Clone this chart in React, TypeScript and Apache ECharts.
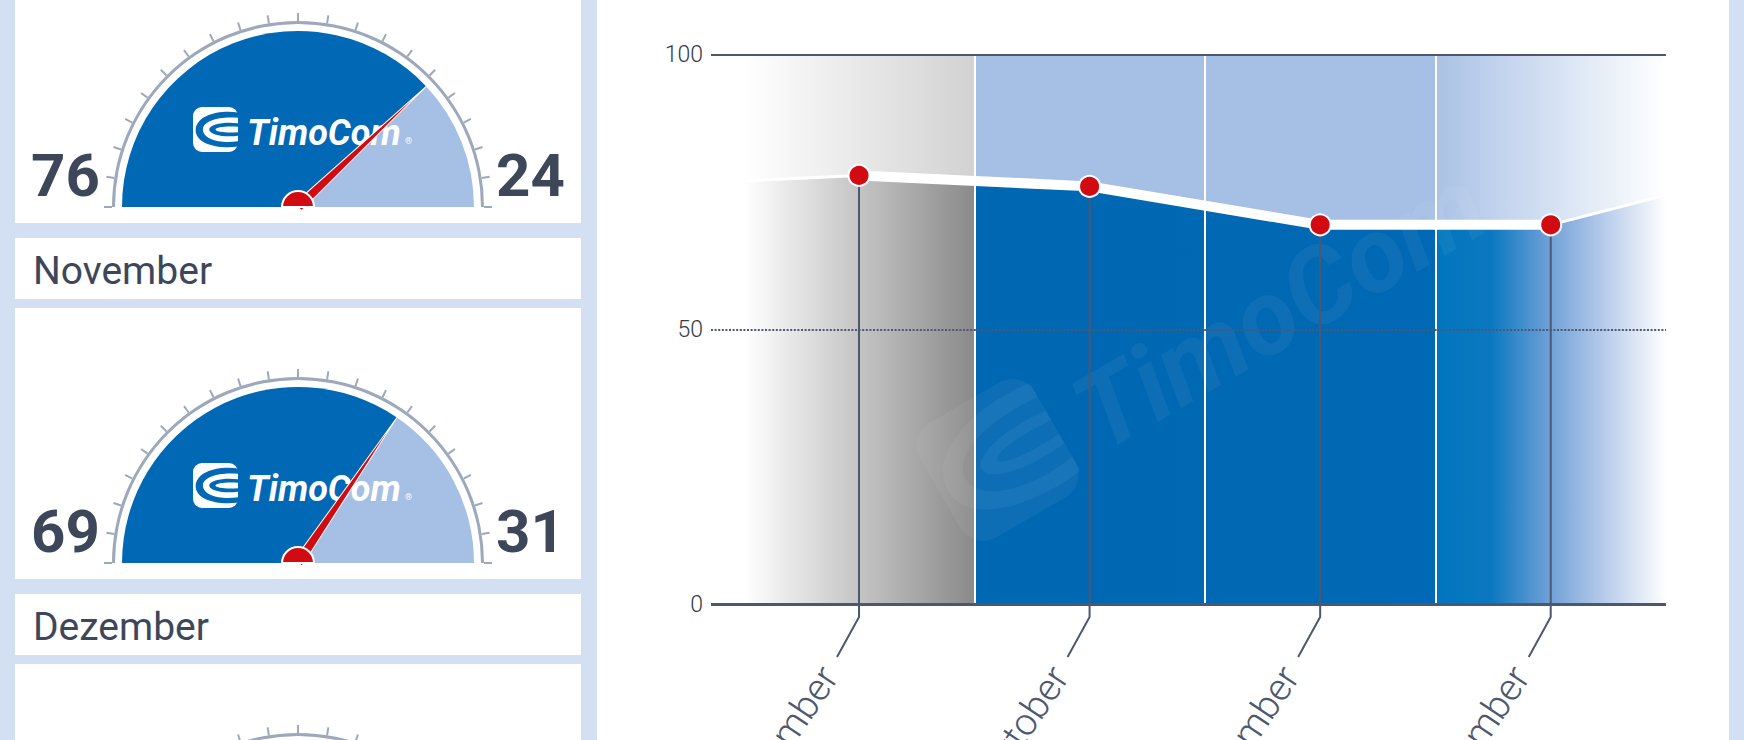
import React, { useEffect, useRef } from 'react';
import * as echarts from 'echarts';

// ---------------- data ----------------
const months = ['September', 'Oktober', 'November', 'Dezember'];
const shareValues = [78, 76, 69, 69];
const leadInPoint = [-0.5, 77];
const leadOutPoint = [3.5, 74.4];
const bandDividers = [0.5, 1.5, 2.5];
const gridLineValues = [0, 50, 100];
const gaugeMonths = ['Oktober', 'November', 'Dezember'];
const gaugeValues = [76, 69, 69];

// ---------------- layout / style ----------------
const PAGE_H = 740;
const GAUGE_CX = 298;
const gaugeCenterY = [207, 563, 919];
const DARK = '#3e475a';
const AXIS = '#4d5870';
const BLUE = '#0068b4';
const LIGHT_BLUE = '#a6bfe5';
const RED = '#d20a11';
const RING = '#9da8bb';

const SWOOSH_D =
  'M100,12 C58,6 8,18 6,50 C4,82 56,94 100,88 L100,76 C62,82 22,72 22,50 C22,30 60,20 100,24 Z ' +
  'M100,36 C72,32 36,38 36,50 C36,62 70,68 100,64 L100,56 C78,58 50,56 50,50 C50,44 78,42 100,44 Z';

let registered = false;
function ensureShapes() {
  if (registered) return;
  echarts.graphic.registerShape('tcSwoosh', echarts.graphic.extendPath(SWOOSH_D, {}) as any);
  registered = true;
}

function logo(x: number, y: number, scale: number, rotation: number, alpha: number, swooshFill: string, z: number) {
  const fill = `rgba(255,255,255,${alpha})`;
  return {
    type: 'group',
    x,
    y,
    scaleX: scale,
    scaleY: scale,
    rotation,
    z,
    silent: true,
    children: [
      { type: 'rect', z, shape: { x: -54, y: -36, width: 45, height: 45, r: 9 }, style: { fill } },
      { type: 'tcSwoosh', z, x: -54, y: -36, scaleX: 0.45, scaleY: 0.45, style: { fill: swooshFill } },
      {
        type: 'text', z, x: 0, y: 8,
        style: { text: 'TimoCom', font: 'italic bold 36px Roboto', fill, align: 'left', verticalAlign: 'bottom' },
      },
      {
        type: 'text', z, x: 158, y: 2,
        style: { text: '®', font: '9px Roboto', fill, align: 'left', verticalAlign: 'bottom' },
      },
    ],
  };
}

function buildOption() {
  const graphics: any[] = [];
  // chart panel
  graphics.push({ type: 'rect', z: 0, silent: true, shape: { x: 597, y: 0, width: 1132, height: 740 }, style: { fill: '#fff' } });

  gaugeValues.forEach((v, i) => {
    const cy = gaugeCenterY[i];
    // header card (the first one lies above the visible page)
    if (cy - 325 + 61 > 0) {
      graphics.push({ type: 'rect', z: 0, silent: true, shape: { x: 15, y: cy - 325, width: 566, height: 61 }, style: { fill: '#fff' } });
      graphics.push({
        type: 'text', z: 1, x: 33, y: cy - 292,
        style: { text: gaugeMonths[i], font: '39px Roboto', fill: DARK, align: 'left', verticalAlign: 'middle' },
      });
    }
    // gauge card
    graphics.push({ type: 'rect', z: 0, silent: true, shape: { x: 15, y: cy - 255, width: 566, height: 271 }, style: { fill: '#fff' } });
    // numbers and logo (only for gauges whose face lies on the page)
    if (cy - 100 < PAGE_H) {
      graphics.push({
        type: 'text', z: 1, x: 31, y: cy - 32,
        style: { text: String(v), font: 'bold 60px Roboto', fill: DARK, align: 'left', verticalAlign: 'middle' },
      });
      graphics.push({
        type: 'text', z: 1, x: 496, y: cy - 32,
        style: { text: String(100 - v), font: 'bold 60px Roboto', fill: DARK, align: 'left', verticalAlign: 'middle' },
      });
      graphics.push(logo(GAUGE_CX - 51, cy - 64, 1, 0, 1, BLUE, 3));
    }
  });

  // watermark
  graphics.push(logo(1098, 448, 2.95, (30 * Math.PI) / 180, 0.05, 'rgba(255,255,255,0.05)', 3));

  const series: any[] = [];

  gaugeValues.forEach((v, i) => {
    const cy = gaugeCenterY[i];
    series.push({
      type: 'pie', silent: true, z: 2,
      center: [GAUGE_CX, cy], radius: [0, 176],
      startAngle: 180, endAngle: 0, clockwise: true,
      label: { show: false }, labelLine: { show: false },
      itemStyle: { borderWidth: 0 },
      emphasis: { disabled: true },
      data: [
        { value: v, itemStyle: { color: BLUE } },
        { value: 100 - v, itemStyle: { color: LIGHT_BLUE } },
      ],
    });
    series.push({
      type: 'gauge', silent: true, z: 5,
      center: [GAUGE_CX, cy], radius: 186,
      startAngle: 180, endAngle: 0, min: 0, max: 100, splitNumber: 20,
      axisLine: { show: true, lineStyle: { width: 3, color: [[1, RING]] } },
      splitLine: { show: true, length: 8, distance: -11, lineStyle: { color: RING, width: 2 } },
      axisTick: { show: false },
      axisLabel: { show: false },
      progress: { show: false },
      pointer: {
        show: true, icon: 'triangle', length: 176, width: 10,
        itemStyle: { color: RED, borderColor: '#fff', borderWidth: 1 },
      },
      anchor: { show: false },
      title: { show: false },
      detail: { show: false },
      data: [{ value: v }],
    });
    series.push({
      type: 'pie', silent: true, z: 6,
      center: [GAUGE_CX, cy], radius: [0, 16],
      startAngle: 180, endAngle: 0,
      label: { show: false }, labelLine: { show: false },
      emphasis: { disabled: true },
      itemStyle: { color: RED, borderColor: '#fff', borderWidth: 2 },
      data: [{ value: 1 }],
    });
  });

  const mainData = months.map((_, i) => [i, shareValues[i]]);
  const areaData = [leadInPoint, ...mainData, leadOutPoint];

  // background bands (above the line)
  series.push({
    type: 'line', z: 1, silent: true, symbol: 'none',
    lineStyle: { width: 0, opacity: 0 },
    data: areaData,
    markArea: {
      silent: true,
      label: { show: false },
      itemStyle: {
        color: new echarts.graphic.LinearGradient(0, 0, 1, 0, [
          { offset: 0, color: '#ffffff' },
          { offset: 0.25, color: '#d2d2d2' },
          { offset: 0.2501, color: LIGHT_BLUE },
          { offset: 0.75, color: LIGHT_BLUE },
          { offset: 0.7501, color: '#aac2e6' },
          { offset: 1, color: '#ffffff' },
        ]),
      },
      data: [[{ xAxis: leadInPoint[0], yAxis: 0 }, { xAxis: leadOutPoint[0], yAxis: 100 }]],
    },
  });

  // area below the line
  series.push({
    type: 'line', z: 2, silent: true, symbol: 'none',
    lineStyle: { color: '#ffffff', width: 3 },
    areaStyle: {
      opacity: 1,
      color: new echarts.graphic.LinearGradient(0, 0, 1, 0, [
        { offset: 0, color: '#ffffff' },
        { offset: 0.25, color: '#8a8a8a' },
        { offset: 0.2501, color: '#0067b3' },
        { offset: 0.75, color: BLUE },
        { offset: 0.7501, color: '#0076bf' },
        { offset: 0.81, color: '#0a78c0' },
        { offset: 0.87, color: '#6a9ed6' },
        { offset: 0.93, color: '#b4c9ea' },
        { offset: 1, color: '#ffffff' },
      ]),
    },
    data: areaData,
  });

  // dividers and grid lines drawn over the fills
  series.push({
    type: 'line', z: 3, silent: true, symbol: 'none',
    lineStyle: { width: 0, opacity: 0 },
    data: areaData,
    markLine: {
      silent: true, symbol: ['none', 'none'], label: { show: false },
      data: [
        ...bandDividers.map((d) => ({ xAxis: d, lineStyle: { color: '#ffffff', width: 2, type: 'solid' } })),
        ...gridLineValues.map((g) => ({
          yAxis: g,
          lineStyle:
            g === 50
              ? { color: AXIS, width: 2, type: [2, 1.6] }
              : { color: AXIS, width: g === 0 ? 3 : 2, type: 'solid' },
        })),
      ],
    },
  });

  // drop lines with rotated month labels
  series.push({
    type: 'custom', z: 4, silent: true, clip: false,
    data: mainData,
    encode: { x: 0, y: 1 },
    renderItem: (params: any, api: any) => {
      const x = api.value(0);
      const y = api.value(1);
      const p = api.coord([x, y]);
      const b = api.coord([x, 0]);
      return {
        type: 'group',
        children: [
          {
            type: 'polyline',
            shape: { points: [[p[0], p[1]], [p[0], b[1] + 13], [p[0] - 22, b[1] + 53]] },
            style: { stroke: AXIS, lineWidth: 2, fill: 'none' },
          },
          {
            type: 'text', x: p[0] - 30, y: b[1] + 66, rotation: (56 * Math.PI) / 180,
            style: { text: months[params.dataIndex], font: '300 38px Roboto', fill: AXIS, align: 'right', verticalAlign: 'middle' },
          },
        ],
      };
    },
  });

  // main thick line with points
  series.push({
    type: 'line', z: 6, silent: true,
    symbol: 'circle', symbolSize: 21,
    itemStyle: { color: RED, borderColor: '#ffffff', borderWidth: 2 },
    lineStyle: { color: '#ffffff', width: 10 },
    data: mainData,
  });

  return {
    animation: false,
    backgroundColor: '#d3dff2',
    grid: { left: 711, right: 78, top: 54.5, bottom: 136, containLabel: false },
    xAxis: {
      type: 'value', min: -0.642, max: 3.5,
      axisLabel: { show: false }, axisTick: { show: false }, splitLine: { show: false },
      axisLine: { show: false },
    },
    yAxis: {
      type: 'value', min: 0, max: 100, interval: 50,
      axisLine: { show: false }, axisTick: { show: false }, splitLine: { show: false },
      axisLabel: { color: '#353b48', fontFamily: 'Roboto', fontWeight: 300, fontSize: 23, margin: 8 },
    },
    graphic: { elements: graphics },
    series,
  };
}

export default function App() {
  const ref = useRef<HTMLDivElement>(null);
  useEffect(() => {
    if (!ref.current) return;
    ensureShapes();
    const chart = echarts.init(ref.current, undefined, { renderer: 'svg' });
    chart.setOption(buildOption() as any);
    return () => chart.dispose();
  }, []);
  return <div ref={ref} style={{ position: 'fixed', left: 0, top: 0, width: 1744, height: 740 }} />;
}
